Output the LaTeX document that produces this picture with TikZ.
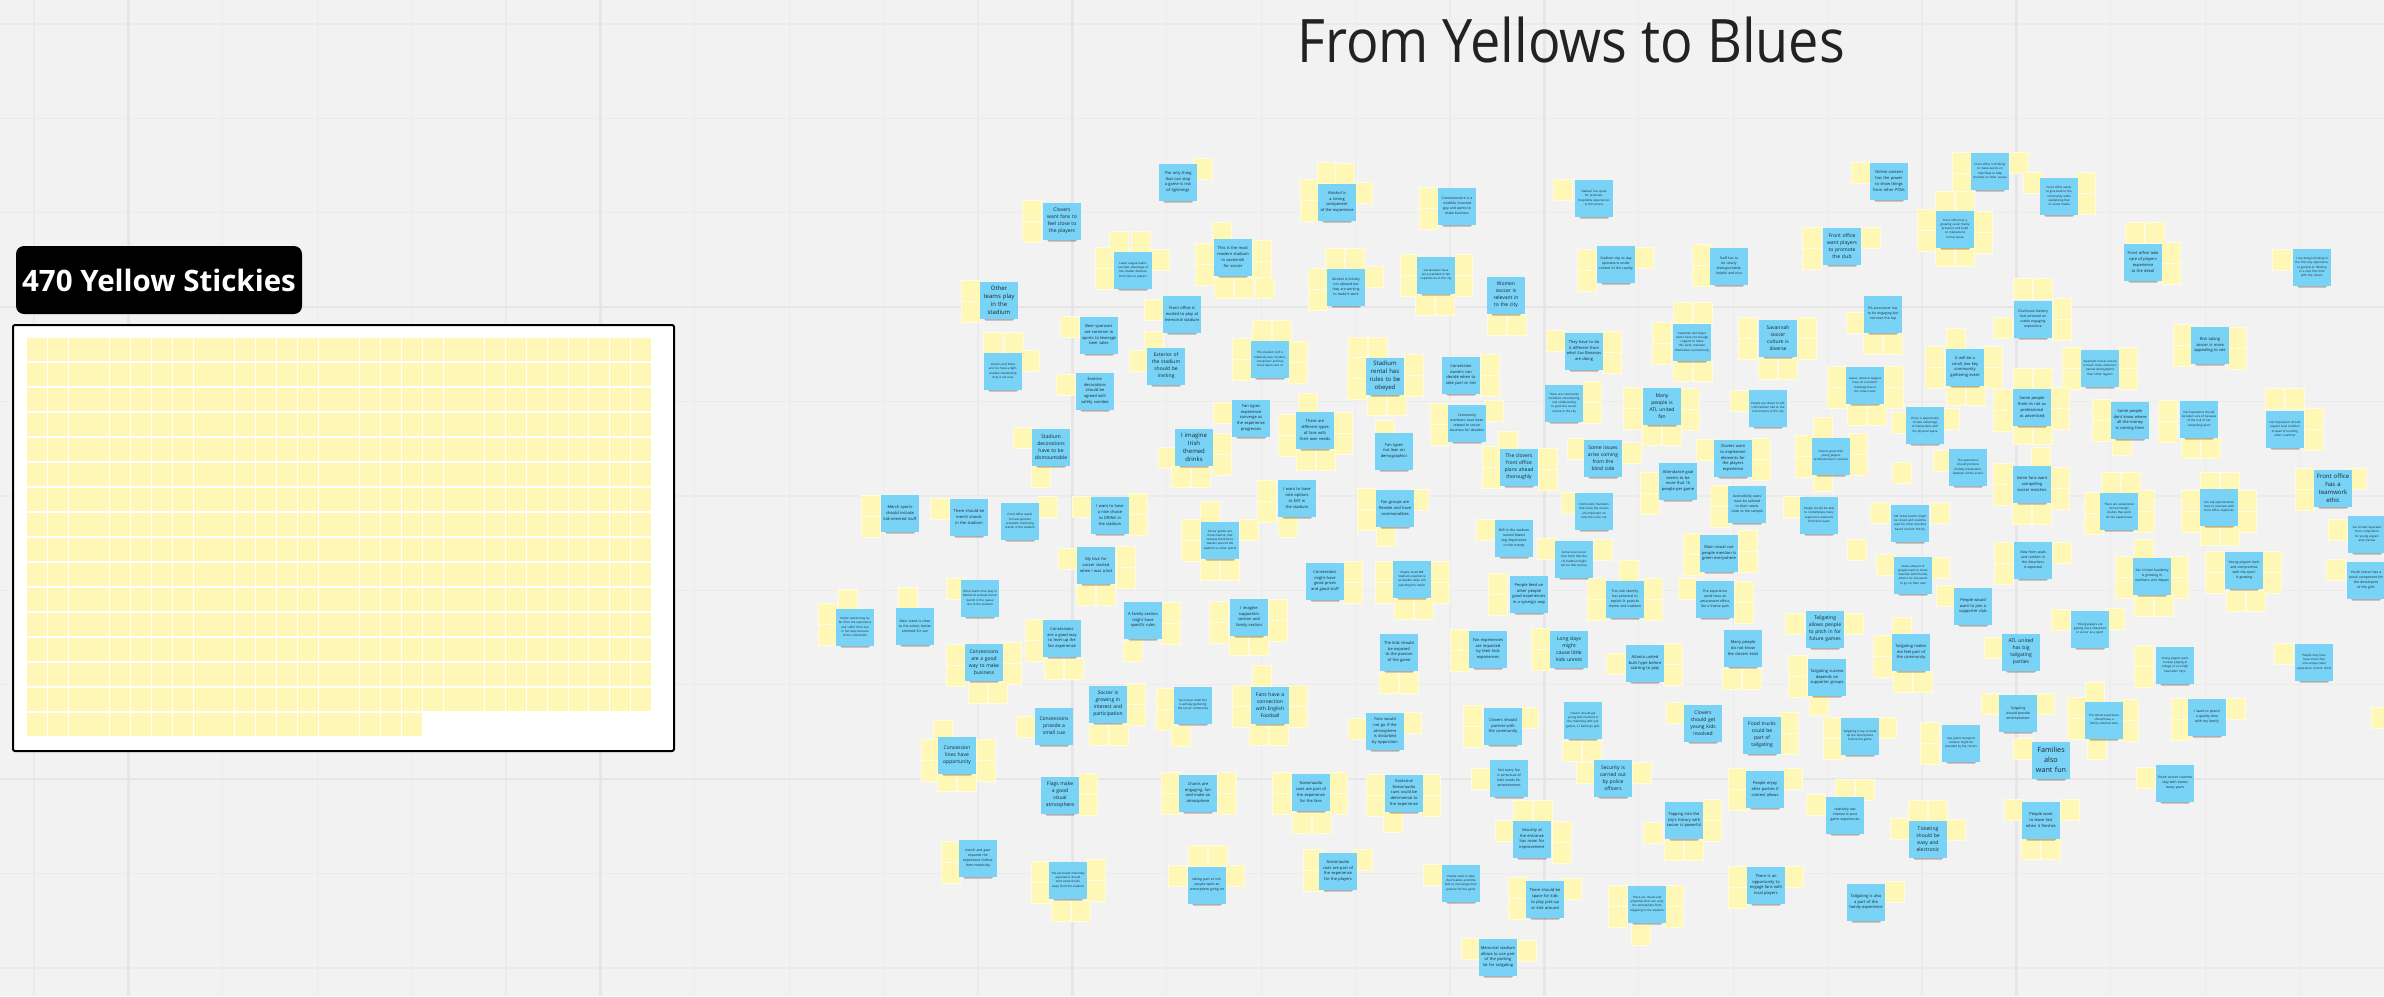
\documentclass[tikz,border=0pt]{standalone}
\usepackage{fontspec}
\setmainfont{Open Sans}
\definecolor{bgc}{RGB}{242,242,242}
\definecolor{gridc}{RGB}{235,235,235}
\definecolor{gridk}{RGB}{230,230,230}
\definecolor{ycol}{RGB}{255,247,182}
\definecolor{yseam}{RGB}{255,251,222}
\definecolor{bcol}{RGB}{120,211,246}
\definecolor{tcol}{RGB}{30,36,44}
\definecolor{titlec}{RGB}{34,34,34}
\newcounter{bn}
\hyphenpenalty=10000
\exhyphenpenalty=10000
\tikzset{
  ys/.style={fill=ycol,draw=yseam,line width=0.5},
  cell/.style={fill=ycol},
  shadowc/.style={fill=black,opacity=0.28,rounded corners=1.5},
  bsticky/.style={rectangle,fill=bcol,minimum width=38,minimum height=37,inner sep=1.5,text width=34.5,align=center,text=tcol},
  fxl/.style={font=\fontsize{7.2}{9.8}\selectfont},
  fll/.style={font=\fontsize{6}{8}\selectfont},
  fl/.style={font=\fontsize{5}{7}\selectfont},
  fm/.style={font=\fontsize{4}{5.7}\selectfont},
  fs/.style={font=\fontsize{3.4}{4.9}\selectfont},
  fxs/.style={font=\fontsize{2.9}{4.2}\selectfont},
  gridline/.style={draw=gridc,line width=1.2},
  gridthick/.style={draw=gridk,line width=2.4}
}
\makeatletter
\newcommand\ylist{}\newcommand\slist{}\newcommand\blist{}
\newcommand\Y[2]{\g@addto@macro\ylist{\path[ys] (#1,#2) rectangle ++(19.5,21);}}
\newcommand\Yv[2]{\g@addto@macro\ylist{\path[ys] (#1,#2) rectangle ++(19.5,21);\path[ys] (#1,#2) ++(0,21.5) rectangle ++(19.5,21);}}
\newcommand\Yh[2]{\g@addto@macro\ylist{\path[ys] (#1,#2) rectangle ++(19.5,21);\path[ys] (#1,#2) ++(20,0) rectangle ++(19.5,21);}}
\newcommand\B[4]{\g@addto@macro\slist{\path[shadowc] ({#1-15},{#2+15.5}) rectangle ({#1+15},{#2+20.5});}%
  \g@addto@macro\blist{\stepcounter{bn}\node[bsticky,#3] (b\arabic{bn}) at (#1,#2) {#4};}}
\makeatother
\begin{document}
\begin{tikzpicture}[x=1pt,y=-1pt]
\useasboundingbox (0,0) rectangle (2384,996);
\fill[bgc] (0,0) rectangle (2384,996);
\foreach \k in {0,...,25} \draw[gridline] ({34+94.4*\k},0) -- ++(0,996);
\foreach \k in {0,...,10} \draw[gridline] (0,{24+94.4*\k}) -- ++(2384,0);
\foreach \k in {1,6,11,16,21} \draw[gridthick] ({34+94.4*\k},0) -- ++(0,996);
\foreach \k in {3,8} \draw[gridthick] (0,{24+94.4*\k}) -- ++(2384,0);

% title
\node[font=\fontsize{60}{60}\selectfont,text=titlec,anchor=base west,inner sep=0] (title) at (1297,62) {\scalebox{0.9}[1]{From Yellows to Blues}};

% left panel
\node[fill=black,rounded corners=8,minimum width=286,minimum height=68,inner sep=0,text=white,font=\bfseries\fontsize{29.5}{30}\selectfont] (label) at (159,280) {470 Yellow Stickies};
\node[draw=black,line width=2,fill=white,minimum width=661,minimum height=426,rounded corners=2,inner sep=0] (frame) at (343.5,538) {};
\foreach \i in {0,...,29} \foreach \j in {0,...,14} \fill[cell] ({27+20.83*\i},{338+25*\j}) rectangle ++(19.9,23.3);
\foreach \i in {0,...,18} \fill[cell] ({27+20.83*\i},713) rectangle ++(19.9,23.3);

% ---- cloud ----
\Y{1193}{158}
\B{1178}{182}{fm}{The only thing that can stop a game is risk of lightnings}
\Yv{1300}{179}\Y{1317}{162}\Y{1335}{163}\Y{1353}{182}
\B{1337}{202}{fm}{Alcohol is a strong component of the experience}
\Yv{1022}{200}
\B{1062}{221}{fl}{Clovers\\want fans to\\feel close to\\the players}
\Yv{1095}{247}\Y{1109}{231}\Y{1131}{231}\Y{1150}{249}
\B{1133}{270}{fxs}{Lower league teams can take advantage of the smaller distance from fans to players}
\Y{1212}{222}\Yv{1195}{243}\Yv{1252}{240}\Y{1214}{277}\Y{1234}{277}\Y{1255}{277}
\B{1233}{257}{fm}{This is the most modern stadium in savannah for soccer}
\Yh{1325}{248}\Yv{1308}{268}\Y{1364}{266}
\B{1346}{287}{fs}{Alcohol is initially not allowed but they are working to make it work}
\Yv{961}{280}
\B{999}{300}{fll}{Other\\teams play\\in the\\stadium}
\Y{1144}{299}
\B{1182}{314}{fm}{Front office is excited to play at memorial stadium}
\Y{1060}{316}
\B{1099}{335}{fm}{Beer sponsors are common in sports to leverage beer sales}
\Y{983}{332}\Y{1004}{332}\Y{1020}{350}
\B{1003}{371}{fxs}{Clovers and Parks and rec have a tight, positive relationship that is not new}
\Y{1144}{331}\Y{1129}{350}
\B{1166}{366}{fl}{Exterior of\\the stadium\\should be\\inviting}
\Yh{1252}{320}\Yv{1232}{338}\Yv{1288}{341}
\B{1270}{359}{fxs}{The stadium turf is relatively new, modern, convenient and has to be taken care of}
\Yh{1348}{337}\Yv{1347}{357}\Yh{1367}{394}\Yv{1404}{354}
\B{1385}{376}{fll}{Stadium\\rental has\\rules to be\\obeyed}
\Y{1056}{374}
\B{1095}{391}{fm}{Exterior decorations should be agreed with safety comitee}
\Y{1213}{402}
\B{1251}{418}{fm}{Fan types experience converge as the experience progresses}
\Y{1298}{393}\Yv{1278}{414}\Yv{1333}{412}\Yh{1296}{449}
\B{1315}{430}{fm}{There are different types of fans with their own needs}
\Y{1013}{427}\Y{1031}{466}
\B{1051}{447}{fl}{Stadium\\decorations\\have to be\\dismountable}
\Y{1158}{447}\Yv{1212}{433}\Yh{1171}{466}
\B{1194}{447}{fll}{I imagine\\Irish\\themed\\drinks}
\Y{1375}{420}
\B{1394}{451}{fm}{Fan types not lean on demographics}
\Yv{1257}{480}\Y{1278}{516}
\B{1297}{498}{fm}{I want to have nice options to EAT in the stadium}
\Yv{861}{495}
\B{900}{513}{fm}{Merch sports should include kid-oriented stuff}
\Y{930}{498}
\B{969}{517}{fm}{There should be merch stands in the stadium}
\Y{1038}{496}
\B{1020}{521}{fxs}{Front office wants to have sponsor activation marketing stands in the stadium}
\Y{1072}{496}\Yv{1128}{493}
\B{1110}{515}{fm}{I want to have a nice choice to DRINK in the stadium}
\Y{1200}{501}\Yv{1181}{519}\Y{1239}{519}\Yh{1200}{559}
\B{1220}{540}{fxs}{Soccer games are more intense, that reduces the time to wander around the stadium vs other sports}
\Y{1058}{548}\Yv{1116}{546}\Yh{1076}{584}
\B{1096}{565}{fm}{My love for soccer started when I was a kid}
\Y{946}{578}
\B{980}{598}{fxs}{Other teams that play in Memorial activate merch stands in the queue line to the stadium}
\Y{838}{589}\Yv{818}{603}
\B{855}{627}{fxs}{Visitor stands may be far from the experience and suffer from sun in hot days because of the orientation}
\Y{898}{587}
\B{915}{626}{fs}{Main stand is close to the action, better oriented for sun}
\Yv{1161}{602}\Y{1123}{640}
\B{1143}{620}{fm}{A family section might have specific rules}
\Yv{1209}{601}\Yv{1268}{599}\Yh{1229}{634}
\B{1249}{617}{fm}{I imagine supporters section and family section}
\Yv{1025}{619}\Yh{1044}{658}
\B{1062}{638}{fm}{Concessions are a good way to level up the fan experience}
\Yv{946}{644}\Yv{1002}{642}\Yh{968}{682}
\B{984}{662}{fl}{Concessions\\are a good\\way to make\\business}
\Yv{1126}{683}\Yh{1089}{724}
\B{1108}{704}{fl}{Soccer is\\growing in\\interest and\\participation}
\Yv{1156}{688}\Y{1171}{725}
\B{1193}{705}{fxs}{Sav Soccer Adult Rec is actively gathering the soccer community}
\Y{1252}{665}\Yv{1232}{685}\Yh{1249}{724}\Yv{1288}{685}
\B{1270}{705}{fl}{Fans have a\\connection\\with English\\Football}
\Y{1016}{716}
\B{1054}{726}{fl}{Concessions\\provide a\\small cue}
\Y{933}{720}\Yv{921}{739}\Yv{976}{739}\Yh{937}{770}
\B{957}{755}{fl}{Concession\\lines have\\opportunity}
\Yv{1078}{773}
\B{1060}{795}{fl}{Flags make\\a good\\visual\\atmosphere}
\Yv{1161}{772}\Yv{1217}{772}
\B{1198}{793}{fm}{Chants are engaging, fun and make an atmosphere}
\Yv{1272}{772}\Yv{1328}{772}\Yh{1292}{812}
\B{1311}{792}{fm}{Noise/audio cues are part of the experience for the fans}
\Yv{941}{841}
\B{978}{858}{fs}{merch and gear expands the experience further from matchday}
\Yv{1031}{861}\Yv{1086}{859}\Yh{1051}{900}
\B{1068}{880}{fxs}{The perceived matchday experience should start some blocks away from the stadium}
\Yh{1188}{845}\Y{1168}{865}\Y{1225}{865}
\B{1207}{885}{fs}{taking part or not, people want an atmosphere going on}
% middle
\Yv{1482}{446}\Y{1498}{431}\Yv{1538}{448}
\B{1519}{467}{fl}{The clovers\\front office\\plans ahead\\thoroughly}
\Y{1567}{438}\Y{1622}{442}
\B{1603}{458}{fl}{Some issues\\arise coming\\from the\\blind side}
\Y{1696}{439}\Yv{1751}{438}
\B{1733}{458}{fm}{Clovers want to implement elements for the players experience}
\Yv{1640}{472}
\B{1678}{481}{fm}{Attendance goal seems to be more that 1k people per game}
\Yv{1710}{485}\Y{1783}{496}
\B{1747}{504}{fs}{Accessibility seats must be tailored to their needs close to the sample}
\Yv{1357}{488}\Y{1409}{489}\Y{1376}{525}
\B{1395}{508}{fm}{Fan groups are flexible and have commonalities}
\Y{1561}{492}
\B{1594}{511}{fxs}{Community members that know the clovers are important on how this turns out}
\Y{1476}{519}
\B{1514}{538}{fs}{Wifi in the stadium scored lowest avg importance in the survey}
\Y{1537}{538}\Y{1593}{539}
\B{1574}{559}{fxs}{Some local soccer fans think that the US tradition might not be that serious}
\Yv{1683}{533}\Yv{1738}{530}
\B{1719}{553}{fm}{Main visual cue people mention is green everywhere}
\Yv{1343}{561}
\B{1325}{581}{fm}{Concessions might have good prices and good stuff}
\Yv{1375}{561}\Yv{1430}{561}\Yh{1394}{598}
\B{1412}{579}{fxs}{People recall MB Stadium experience as flexible while still watching the match}
\Yv{1488}{573}
\B{1529}{594}{fm}{People feed on other people good experiences in a synergic way}
\Y{1619}{560}\Yv{1587}{578}\Yv{1643}{578}
\B{1625}{599}{fs}{The club identity has potential to exploit St patricks theme and tradition}
\Y{1678}{578}\Yv{1734}{581}
\B{1715}{599}{fs}{The experience could have an amusement effect, like a theme park}
\Yh{1379}{672}
\B{1399}{652}{fm}{The kids should be exposed to the passion of the game}
\Yv{1450}{629}
\B{1488}{649}{fm}{Fan experiences are impacted by their kids experiences}
\Yv{1531}{628}
\B{1569}{649}{fl}{Long days\\might\\cause little\\kids unrest}
\Y{1606}{653}\Yv{1663}{643}
\B{1645}{663}{fm}{Atlanta united built hype before starting to play}
\Yh{1722}{668}
\B{1743}{648}{fm}{Many people do not know the clovers exist}
\Y{1348}{718}\Y{1402}{712}
\B{1385}{731}{fm}{Fans would not go if the atmosphere is disturbed by opposition}
\Yv{1463}{705}\Y{1519}{707}
\B{1503}{726}{fm}{Clovers should partner with the community}
\Yh{1562}{740}
\B{1583}{720}{fxs}{Clovers should get young kids involved in the matchday with pre games, or ball boys girls}
\Y{1666}{702}
\B{1703}{723}{fl}{Clovers\\should get\\young kids\\involved}
\Yv{1779}{712}
\B{1762}{735}{fl}{Food trucks\\could be\\part of\\tailgating}
\Yv{1366}{774}\Yv{1421}{774}\Y{1383}{811}
\B{1404}{793}{fm}{Excessive Noise/audio cues could be detrimental to the experience}
\Y{1471}{768}
\B{1509}{778}{fs}{Not every fan is conscious of kid's needs for entertainment}
\Y{1576}{762}\Y{1632}{762}
\B{1613}{778}{fl}{Security is\\carried out\\by police\\officers}
\Yv{1728}{768}\Y{1783}{768}
\B{1765}{789}{fm}{People enjoy after parties if context allows}
\Yh{1513}{800}\Y{1495}{820}\Yv{1552}{821}
\B{1532}{839}{fm}{Security at the entrance has room for improvement}
\Y{1643}{822}\Yv{1702}{799}\Yh{1664}{839}
\B{1684}{820}{fm}{Tapping into the city's history with soccer is powerful}
\Yv{1303}{849}\Y{1353}{849}
\B{1338}{871}{fm}{Noise/audio cues are part of the experience for the players}
\Y{1423}{864}
\B{1461}{883}{fxs}{People want to take their babies and little kids to encourage their passion for the game}
\Yv{1508}{877}\Y{1562}{878}
\B{1545}{899}{fm}{There should be space for kids to play pick-up or kick around}
\Yv{1608}{885}\Yv{1664}{885}\Y{1631}{924}
\B{1647}{904}{fxs}{There are rituals and amenities that can carry the atmosphere from tailgating to the stadium}
\Yv{1728}{866}\Y{1784}{866}
\B{1766}{885}{fm}{There is an opportunity to engage fans with local players}
\Y{1461}{938}\Y{1517}{940}
\B{1498}{957}{fm}{Memorial stadium allows to use part of the parking lot for tailgating}
% top middle
\Yv{1419}{187}
\B{1457}{206}{fs}{Concessionaire is a credible, invested guy and wants to make business}
\Y{1553}{179}
\B{1594}{198}{fxs}{Stadium has space for premium, hospitality experiences in the terrace}
\Y{1851}{162}
\B{1889}{181}{fm}{Online content has the power to show things from other POVs}
\Yv{1400}{254}\Yv{1453}{254}\Yh{1415}{294}
\B{1436}{275}{fxs}{Sav Bananas have set a standard in fan experiences in the city}
\Yv{1577}{249}\Y{1634}{247}
\B{1616}{264}{fs}{Stadium day to day operations under control of the county}
\Yv{1692}{244}
\B{1729}{266}{fs}{Staff has to be clearly distinguishable, helpful and nice}
\Yv{1802}{227}\Y{1861}{227}
\B{1842}{246}{fl}{Front office\\want players\\to promote\\the club}
\Yh{1487}{314}
\B{1506}{295}{fl}{Women\\soccer is\\relevant in\\to the city}
\Y{1546}{330}\Yv{1602}{331}
\B{1584}{351}{fm}{They have to do it different from what Sav Bananas are doing}
\Yh{1673}{302}\Yv{1652}{322}\Yh{1673}{360}
\B{1692}{342}{fxs}{Savannah and larger metro have not enough support to make this work, maintain themselves economically}
\Yv{1738}{317}\Yv{1797}{317}\Yh{1758}{358}
\B{1778}{338}{fl}{Savannah\\soccer\\culture is\\diverse}
\Y{1846}{312}\Yh{1863}{333}
\B{1883}{314}{fs}{PA announcer has to be engaging but not over the top}
\Yv{1480}{354}
\B{1461}{375}{fm}{Concession owners can decide when to take part or not}
\Yv{1430}{403}\Y{1484}{400}
\B{1467}{423}{fs}{Community members have been related to soccer business for decades}
\Yv{1582}{381}
\B{1564}{403}{fxs}{There are community members volunteering and collaborating to grow the soccer culture in the city}
\Yv{1623}{387}\Yv{1680}{388}\Yh{1642}{424}
\B{1662}{406}{fl}{Many\\people is\\ATL united\\fan}
\Y{1730}{390}
\B{1768}{408}{fxs}{People are drawn to ATL Utd tradition tied to the train history of the city}
\Yv{1827}{366}\Yh{1847}{404}\Yv{1884}{366}
\B{1865}{385}{fxs}{Lower, national leagues have an economic challenge due to the travel costs}
\Yv{1795}{435}\Y{1813}{417}\Yv{1848}{433}\Y{1813}{470}
\B{1831}{456}{fxs}{Clovers grow their young players professionally in seasons}
% right
\Yv{1952}{152}\Y{2009}{152}
\B{1990}{171}{fxs}{Front office is thinking to make events on matchday to help charities or other causes}
\Y{2023}{172}\Yv{2076}{172}
\B{2059}{196}{fxs}{Front office wants to give back to the community while capitalizing that on social media}
\Yh{1935}{191}\Yv{1917}{209}\Yv{1973}{211}\Yh{1935}{245}
\B{1955}{229}{fxs}{Front office has a growing social media presence and build on interactions in that space}
\Yh{2125}{222}\Yv{2161}{242}
\B{2143}{262}{fm}{Front office take care of players experience to the detail}
\Y{2272}{249}
\B{2312}{267}{fxs}{I use design thinking in the `first day experience' in general or thinking in a fans first time with the clovers}
\Yh{2013}{278}\Y{1993}{317}\Yv{2052}{298}
\B{2033}{319}{fs}{Charleston Battery had achieved an stable engaging experience}
\Yv{2173}{324}\Yv{2227}{327}
\B{2210}{345}{fm}{Risk taking soccer is more appealing to see}
\Y{1946}{328}\Yv{1925}{346}\Yv{1983}{346}\Yh{1946}{384}
\B{1965}{367}{fm}{It will be a small, low key community gathering event}
\Yv{2062}{347}\Yv{2118}{347}
\B{2100}{368}{fxs}{Savannah Soccer culture is much more american: narrow demographic than other regions}
\Yh{2013}{368}\Yv{1993}{389}\Yv{2050}{387}\Yh{2013}{423}
\B{2032}{407}{fm}{Some people think its not as professional as advertised}
\Yv{2092}{399}\Y{2112}{434}
\B{2130}{420}{fm}{Some people dont know where all the money is coming from}
\Yv{2158}{400}\Yh{2181}{437}
\B{2199}{419}{fxs}{Fan Experience should be taken care of because of the risk of not compelling sport}
\Yh{2265}{388}\Yv{2304}{408}
\B{2285}{429}{fxs}{Fan Experience should respect local tradition instead of mocking other countries'}
\Y{1891}{412}\Y{1940}{408}
\B{1925}{425}{fxs}{There is opportunity to take advantage of interactions with the physical space}
\Y{1933}{450}\Y{1892}{462}
\B{1968}{467}{fxs}{The experience should promote friendly interactions between all the actors}
\Y{2031}{447}\Yv{1993}{463}\Yv{2050}{467}\Yh{2012}{503}
\B{2032}{484}{fm}{Some fans want compelling soccer matches}
\Yv{2295}{468}\Y{2347}{468}
\B{2333}{488}{fll}{Front office\\has a\\teamwork\\ethic}
\Yv{2084}{492}\Yh{2101}{472}\Yv{2135}{490}
\B{2119}{511}{fxs}{There are exceptional Service Design studies that work for fan experiences}
\Yh{2200}{472}\Yv{2181}{490}\Yv{2237}{490}\Yh{2200}{524}
\B{2219}{507}{fxs}{Fan exp opportunities have to resonate with front office objectives}
\Y{2328}{519}
\B{2367}{534}{fxs}{Sav United separates from competition for young players and coaches}
\B{1819}{515}{fxs}{People should be able to contemplate many experience elements from their seats}
\Y{1870}{502}\Y{1930}{502}
\B{1910}{523}{fxs}{Old Ticket booths might be closed and could be used for other activities based on their history}
\Y{1876}{554}\Y{1930}{557}\Y{1847}{539}
\B{1913}{575}{fxs}{Some amount of people want to share matches with friends, almost no one wants to go on their own}
\Yv{1994}{542}\Y{2052}{542}
\B{2033}{560}{fs}{View from seats and comfort in the bleachers is expected}
\Y{2134}{539}\Yv{2115}{556}\Yv{2169}{556}\Yh{2134}{595}
\B{2152}{576}{fs}{Sav United Academy is growing in numbers and impact}
\Yv{2205}{551}\Yv{2262}{551}\Yh{2226}{590}
\B{2244}{570}{fs}{Young players level and compromise with the sport is growing}
\Y{2326}{559}
\B{2366}{580}{fs}{Youth soccer has a social component for the developent of the girls}
\Y{1936}{585}
\B{1973}{606}{fm}{People would want to join a supporter club}
\Y{1844}{613}\Y{1785}{613}
\B{1825}{629}{fl}{Tailgating\\allows people\\to pitch in for\\future games}
\Y{1892}{617}\Yv{1873}{635}\Yh{1893}{671}
\B{1911}{652}{fm}{Tailgating makes me feel part of the community}
\Y{1984}{637}
\B{2021}{652}{fl}{ATL united\\has big\\tailgating\\parties}
\Y{2051}{609}\Y{2105}{608}
\B{2090}{629}{fxs}{YOung players are getting more interested in soccer as a sport}
\Yv{2134}{645}
\B{2175}{665}{fxs}{Young players want to keep playing at college or at a high level after 18yo}
\Y{2274}{643}
\B{2314}{662}{fxs}{People may have have more than one unique ideal experience in their mind}
\Y{1809}{694}\Yv{1788}{655}
\B{1827}{677}{fm}{Tailgating success depends on supporter groups}
\Y{1981}{693}\Y{2035}{693}
\B{2018}{713}{fs}{Tailgating should provide entertainment}
\Y{2085}{682}\Yv{2067}{697}\Yv{2119}{699}\Y{2087}{738}
\B{2104}{720}{fxs}{The whole experience should have a family oriented tone}
\Yv{2171}{698}\Y{2226}{698}
\B{2207}{717}{fs}{I want to spend a quality time with my family}
\Yv{1823}{717}\Y{1877}{717}
\B{1860}{736}{fxs}{Tailgating is key to build up the atmosphere before the game}
\Yv{1920}{722}
\B{1961}{743}{fxs}{Any public transport solution might be provided by the clovers}
\Y{2013}{738}
\B{2051}{760}{fxl}{Families\\also\\want fun}
\Y{2136}{767}
\B{2175}{783}{fs}{Youth soccer coaches stay with teams many years}
\Yh{1835}{779}\Y{1806}{794}
\B{1845}{815}{fs}{relatively low interest in post game experiences}
\Yh{1908}{800}\Y{1890}{818}\Y{1946}{819}
\B{1928}{839}{fl}{Ticketing\\should be\\easy and\\electronic}
\Y{2004}{799}\Y{2060}{799}\Yh{2021}{838}
\B{2041}{820}{fm}{People want to leave fast when it finishes}
\Y{1885}{881}
\B{1866}{902}{fm}{Tailgating is also a part of the family experience}
\Y{2371}{707}
% draw in layer order
\ylist
\slist
\blist
\end{tikzpicture}
\end{document}
